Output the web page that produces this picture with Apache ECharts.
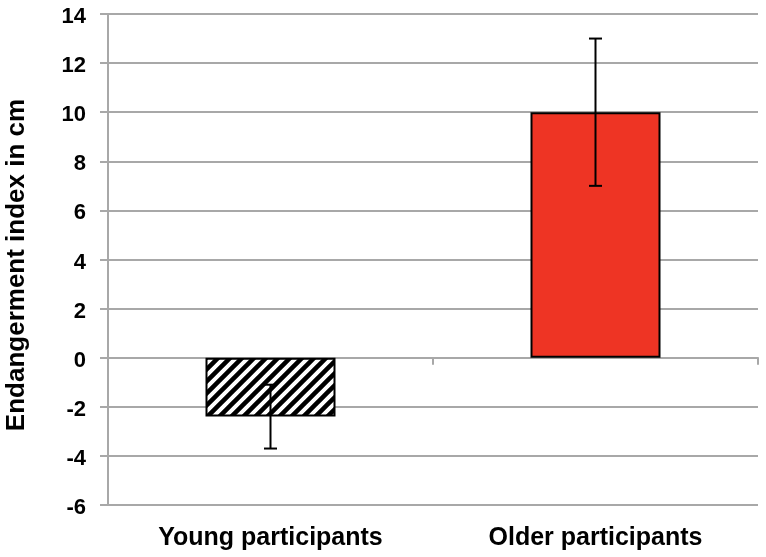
<!DOCTYPE html>
<html><head><meta charset="utf-8">
<script src="https://cdn.jsdelivr.net/npm/echarts@6/dist/echarts.min.js"></script>
<style>html,body{margin:0;padding:0;background:#fff}#c{width:766px;height:557px}</style>
</head><body><div id="c"></div>
<script>
const categories = ['Young participants', 'Older participants'];
const means = [-2.4, 10];
const errors = [1.3, 3];
const yTicks = { min: -6, max: 14, interval: 2 };

function hatch() {
  const s = 12, c = document.createElement('canvas');
  c.width = s; c.height = s;
  const g = c.getContext('2d');
  g.fillStyle = '#fff'; g.fillRect(0, 0, s, s);
  g.strokeStyle = '#000'; g.lineWidth = 4.5;
  g.beginPath();
  g.moveTo(-s, s * 2); g.lineTo(s * 2, -s);
  g.moveTo(-s, s); g.lineTo(s, -s);
  g.moveTo(0, s * 2); g.lineTo(s * 2, 0);
  g.stroke();
  return c;
}
const fills = [{ image: hatch(), repeat: 'repeat' }, '#EE3424'];

const chart = echarts.init(document.getElementById('c'));
const font = 'Liberation Sans, Arial, sans-serif';
chart.setOption({
  animation: false,
  grid: { left: 108, right: 8, top: 14, bottom: 52, containLabel: false, outerBoundsMode: 'none' },
  xAxis: [{
    type: 'category', data: categories, position: 'bottom',
    axisLine: { show: false, onZero: false }, axisTick: { show: false },
    axisLabel: { color: '#000', fontFamily: font, fontWeight: 'bold', fontSize: 25, margin: 21 }
  }, {
    type: 'category', data: categories, position: 'top',
    axisLine: { show: true, onZero: true, lineStyle: { color: '#A8A8A8', width: 2 } },
    axisTick: { show: true, inside: true, length: 7, lineStyle: { color: '#A8A8A8', width: 2 } },
    axisLabel: { show: false }
  }],
  yAxis: {
    type: 'value', min: yTicks.min, max: yTicks.max, interval: yTicks.interval,
    name: 'Endangerment index in cm', nameLocation: 'middle', nameGap: 78,
    nameTextStyle: { color: '#000', fontFamily: font, fontWeight: 'bold', fontSize: 26, padding: [0, 11, 0, 0] },
    axisLine: { show: true, lineStyle: { color: '#A8A8A8', width: 2 } },
    axisTick: { show: true, length: 8, lineStyle: { color: '#A8A8A8', width: 2 } },
    splitLine: { lineStyle: { color: '#A8A8A8', width: 2 } },
    axisLabel: {
      color: '#000', fontFamily: font, fontWeight: 'bold', fontSize: 22, margin: 22,
      formatter: '{a|{value}}',
      rich: { a: { color: '#000', fontFamily: font, fontWeight: 'bold', fontSize: 22, padding: [6, 0, 0, 0] } }
    }
  },
  series: [{
    type: 'bar', barWidth: '40%',
    data: means.map((v, i) => ({ value: v, itemStyle: { color: fills[i], borderColor: '#000', borderWidth: 2 } }))
  }, {
    type: 'custom', z: 10,
    data: means.map((v, i) => [i, v - errors[i], v + errors[i]]),
    renderItem: function (params, api) {
      const lo = api.coord([api.value(0), api.value(1)]);
      const hi = api.coord([api.value(0), api.value(2)]);
      const w = 6.5;
      const st = { stroke: '#000', lineWidth: 2 };
      return { type: 'group', children: [
        { type: 'line', shape: { x1: hi[0], y1: hi[1], x2: lo[0], y2: lo[1] }, style: st },
        { type: 'line', shape: { x1: hi[0] - w, y1: hi[1], x2: hi[0] + w, y2: hi[1] }, style: st },
        { type: 'line', shape: { x1: lo[0] - w, y1: lo[1], x2: lo[0] + w, y2: lo[1] }, style: st }
      ]};
    }
  }]
});
</script></body></html>
